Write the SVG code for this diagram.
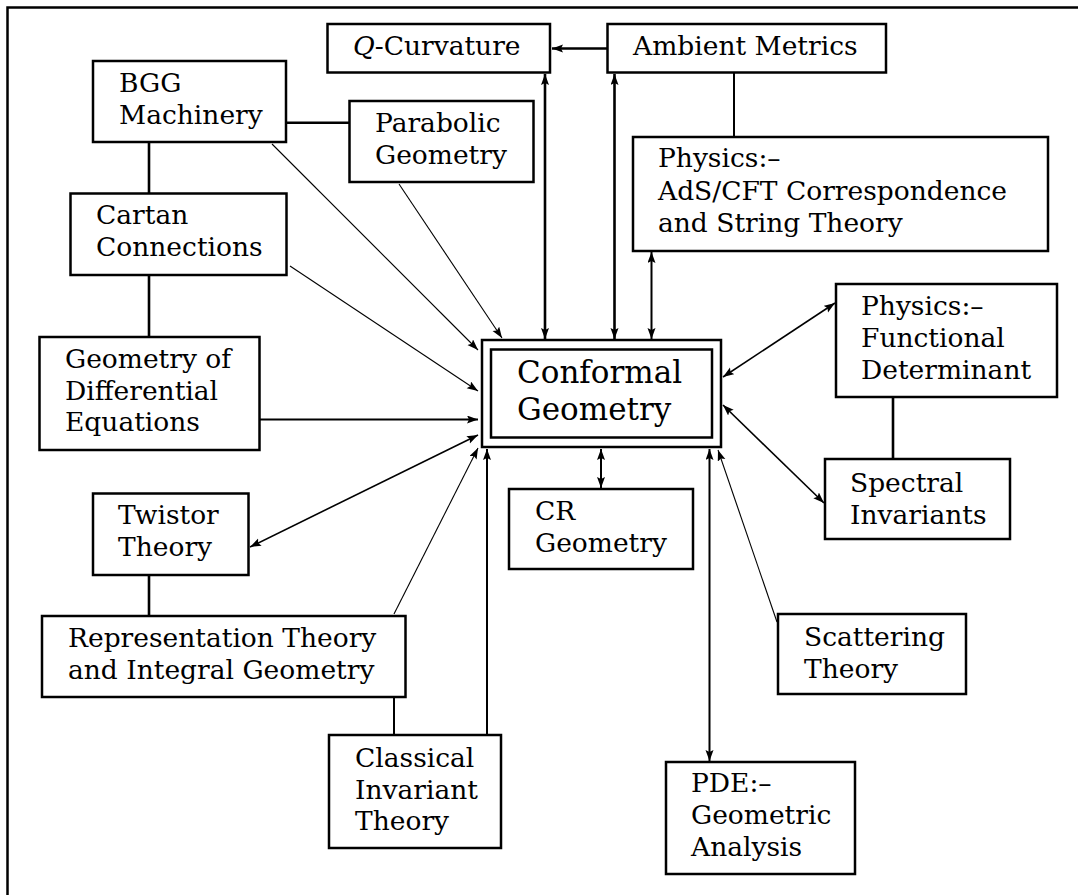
<svg xmlns="http://www.w3.org/2000/svg" width="1078" height="895" viewBox="0 0 1078 895">
<style>
.box{fill:#fff;stroke:#000;stroke-width:2.5}
.t{font-family:"DejaVu Serif","Liberation Serif",serif;font-size:26.5px;fill:#000}
.big{font-family:"DejaVu Serif","Liberation Serif",serif;font-size:31px;fill:#000}
.c{fill:none;stroke:#000}
.thick{stroke-width:2.6}
.mid{stroke-width:2}
.med{stroke-width:1.6}
.thin{stroke-width:1.1}
</style>
<defs>
<marker id="ah" markerUnits="userSpaceOnUse" markerWidth="14" markerHeight="10" refX="11" refY="4" orient="auto-start-reverse" viewBox="0 0 14 10">
<path d="M0,0 L11,4 L0,8 L2,4 z" fill="#000"/>
</marker>
</defs>
<rect width="1078" height="895" fill="#fff"/>
<path d="M7.5,900 V7.5 H1085" fill="none" stroke="#000" stroke-width="2.5"/>
<g id="connectors">
<line class="c thick" x1="607" y1="48.5" x2="552" y2="48.5" marker-end="url(#ah)"/>
<line class="c thick" x1="545" y1="74" x2="545" y2="339" marker-start="url(#ah)" marker-end="url(#ah)"/>
<line class="c thick" x1="614.5" y1="74" x2="614.5" y2="339" marker-start="url(#ah)" marker-end="url(#ah)"/>
<line class="c mid" x1="651.5" y1="252" x2="651.5" y2="339" marker-start="url(#ah)" marker-end="url(#ah)"/>
<line class="c mid" x1="734" y1="72" x2="734" y2="137"/>
<line class="c thick" x1="286" y1="122.7" x2="349.5" y2="122.7"/>
<line class="c thick" x1="149" y1="142" x2="149" y2="193.5"/>
<line class="c thick" x1="149" y1="275" x2="149" y2="337"/>
<line class="c thin" x1="272" y1="144" x2="478" y2="350" marker-end="url(#ah)"/>
<line class="c thin" x1="399" y1="184" x2="502" y2="338" marker-end="url(#ah)"/>
<line class="c thin" x1="290" y1="266" x2="478" y2="391" marker-end="url(#ah)"/>
<line class="c mid" x1="259.5" y1="419.5" x2="478" y2="419.5" marker-end="url(#ah)"/>
<line class="c med" x1="250" y1="547" x2="478" y2="435" marker-start="url(#ah)" marker-end="url(#ah)"/>
<line class="c thin" x1="394" y1="614" x2="478" y2="448" marker-end="url(#ah)"/>
<line class="c thick" x1="149" y1="575" x2="149" y2="616"/>
<line class="c mid" x1="394" y1="697" x2="394" y2="735"/>
<line class="c mid" x1="487" y1="735" x2="487" y2="449" marker-end="url(#ah)"/>
<line class="c mid" x1="601" y1="449" x2="601" y2="488" marker-start="url(#ah)" marker-end="url(#ah)"/>
<line class="c mid" x1="709.5" y1="449" x2="709.5" y2="761" marker-start="url(#ah)" marker-end="url(#ah)"/>
<line class="c thin" x1="777" y1="622" x2="718" y2="450" marker-end="url(#ah)"/>
<line class="c med" x1="835" y1="303" x2="723" y2="377" marker-start="url(#ah)" marker-end="url(#ah)"/>
<line class="c med" x1="824" y1="503" x2="723" y2="405" marker-start="url(#ah)" marker-end="url(#ah)"/>
<line class="c thick" x1="893" y1="397" x2="893" y2="459"/>
</g>
<g id="q-curvature">
<rect class="box" x="327.5" y="24" width="222.5" height="48.5"/>
<text class="t" x="353" y="55"><tspan font-style="italic">Q</tspan>-Curvature</text>
</g>
<g id="ambient-metrics">
<rect class="box" x="607.5" y="24" width="278.5" height="48.5"/>
<text class="t" x="633" y="55">Ambient Metrics</text>
</g>
<g id="bgg">
<rect class="box" x="93" y="61" width="193" height="81"/>
<text class="t"><tspan x="119" y="92">BGG</tspan><tspan x="119" y="124">Machinery</tspan></text>
</g>
<g id="parabolic">
<rect class="box" x="349.5" y="101" width="184" height="81"/>
<text class="t"><tspan x="375" y="132">Parabolic</tspan><tspan x="375" y="164">Geometry</tspan></text>
</g>
<g id="ads-cft">
<rect class="box" x="633" y="137" width="415" height="114"/>
<text class="t"><tspan x="658" y="167">Physics:–</tspan><tspan x="658" y="200">AdS/CFT Correspondence</tspan><tspan x="658" y="232">and String Theory</tspan></text>
</g>
<g id="cartan">
<rect class="box" x="70.5" y="193.5" width="216" height="81.5"/>
<text class="t"><tspan x="96" y="224">Cartan</tspan><tspan x="96" y="256">Connections</tspan></text>
</g>
<g id="functional-determinant">
<rect class="box" x="836" y="284" width="221" height="113"/>
<text class="t"><tspan x="861" y="315">Physics:–</tspan><tspan x="861" y="347">Functional</tspan><tspan x="861" y="379">Determinant</tspan></text>
</g>
<g id="geometry-de">
<rect class="box" x="39.5" y="337" width="220" height="113"/>
<text class="t"><tspan x="65" y="368">Geometry of</tspan><tspan x="65" y="399.5">Differential</tspan><tspan x="65" y="431">Equations</tspan></text>
</g>
<g id="conformal">
<rect class="box" x="482" y="340" width="239" height="107"/>
<rect class="box" x="491" y="349.5" width="221" height="88" stroke-width="3"/>
<text class="big"><tspan x="517" y="383">Conformal</tspan><tspan x="517" y="419.5">Geometry</tspan></text>
</g>
<g id="cr">
<rect class="box" x="509" y="489" width="184" height="80"/>
<text class="t"><tspan x="535" y="520">CR</tspan><tspan x="535" y="552">Geometry</tspan></text>
</g>
<g id="spectral">
<rect class="box" x="825" y="459" width="185" height="80"/>
<text class="t"><tspan x="850" y="492">Spectral</tspan><tspan x="850" y="523.5">Invariants</tspan></text>
</g>
<g id="twistor">
<rect class="box" x="93" y="493.5" width="155.5" height="81.5"/>
<text class="t"><tspan x="118" y="524">Twistor</tspan><tspan x="118" y="556">Theory</tspan></text>
</g>
<g id="representation">
<rect class="box" x="42" y="616" width="363.5" height="81"/>
<text class="t"><tspan x="68" y="647">Representation Theory</tspan><tspan x="68" y="678.5">and Integral Geometry</tspan></text>
</g>
<g id="scattering">
<rect class="box" x="778" y="614" width="188" height="80"/>
<text class="t"><tspan x="804" y="646">Scattering</tspan><tspan x="804" y="677.5">Theory</tspan></text>
</g>
<g id="classical">
<rect class="box" x="329" y="735" width="172" height="113"/>
<text class="t"><tspan x="355" y="767">Classical</tspan><tspan x="355" y="798.5">Invariant</tspan><tspan x="355" y="830">Theory</tspan></text>
</g>
<g id="pde">
<rect class="box" x="666" y="762" width="189" height="112"/>
<text class="t"><tspan x="691" y="792">PDE:–</tspan><tspan x="691" y="824">Geometric</tspan><tspan x="691" y="856">Analysis</tspan></text>
</g>
</svg>
